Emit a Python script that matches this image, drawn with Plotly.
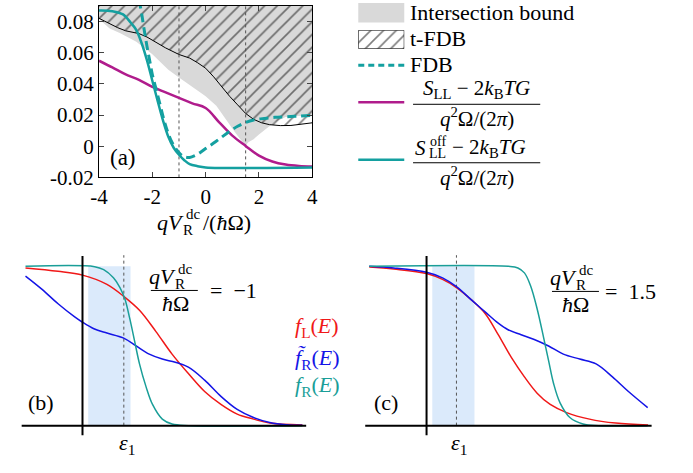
import plotly.graph_objects as go

W, H = 693, 473
FONT = "Liberation Serif"

# ---------------- Panel (a) data ----------------
TEAL_SOLID_X = [-4, -3.5, -3.1, -2.8, -2.6, -2.4, -2.2, -2.0, -1.8, -1.6, -1.4, -1.2, -1.0, -0.8, -0.6, -0.3, 0, 4]
TEAL_SOLID_Y = [0.087, 0.0866, 0.0845, 0.079, 0.0745, 0.066, 0.055, 0.042, 0.029, 0.0165, 0.006, -0.001,
                -0.0055, -0.009, -0.0115, -0.0128, -0.0136, -0.0137]

FDB_X = [-2.5, -2.4, -2.3, -2.2, -2.1, -2.0, -1.85, -1.7, -1.55, -1.4, -1.25, -1.1, -0.95, -0.8, -0.6, -0.4,
         -0.2, 0, 0.3, 0.6, 0.9, 1.2, 1.5, 1.8, 2.2, 2.6, 3.0, 3.5, 4.0]
FDB_Y = [0.094, 0.085, 0.074, 0.064, 0.055, 0.046, 0.036, 0.026, 0.016, 0.008, 0.002, -0.002, -0.005, -0.0068,
         -0.0072, -0.006, -0.004, -0.0015, 0.002, 0.0058, 0.0095, 0.0128, 0.0152, 0.0168, 0.0178, 0.0185, 0.0188,
         0.0193, 0.0198]

SLL_X = [-4, -3.5, -3.0, -2.5, -2.0, -1.5, -1.0, -0.5, 0, 0.5, 1.0, 1.5, 2.0, 2.5, 3.0, 3.5, 4.0]
SLL_Y = [0.0548, 0.0505, 0.046, 0.0425, 0.038, 0.0345, 0.031, 0.0275, 0.0245, 0.0155, 0.0068, 0.0002, -0.006,
         -0.0098, -0.0118, -0.0127, -0.013]

TFDB_X = [-4, -3.6, -3.3, -3.0, -2.7, -2.5, -2.2, -2.0, -1.5, -1.0, -0.6, -0.3, 0, 0.3, 0.6, 0.9, 1.2, 1.5, 1.8,
          2.1, 2.4, 2.8, 3.2, 3.6, 4.0]
TFDB_Y = [0.082, 0.0785, 0.076, 0.074, 0.0728, 0.0722, 0.070, 0.068, 0.063, 0.0588, 0.0565, 0.0535, 0.050, 0.0445,
          0.038, 0.032, 0.0265, 0.021, 0.0172, 0.015, 0.0138, 0.0132, 0.0133, 0.014, 0.015]

INTER_X = [-4, -3.6, -3.2, -2.6, -2.0, -1.4, -1.0, -0.5, 0, 0.4, 0.8, 1.1, 1.3, 1.45, 1.5, 1.6, 1.8, 2.0, 2.2,
           2.4, 2.6, 2.8, 3.0, 3.5, 4.0]
INTER_Y = [0.0815, 0.0755, 0.0725, 0.067, 0.059, 0.049, 0.044, 0.038, 0.032, 0.026, 0.016, 0.009, 0.0045, 0.0012,
           0.0005, 0.0025, 0.0045, 0.0075, 0.0105, 0.013, 0.0155, 0.0172, 0.0188, 0.0193, 0.0198]

A_YTOP = 0.09
A_VLINES = [-1.0, 1.5]
A_XTICKS = [-4, -2, 0, 2, 4]
A_XTICKTEXT = ["-4", "-2", "0", "2", "4"]
A_YTICKS = [-0.02, 0, 0.02, 0.04, 0.06, 0.08]
A_YTICKTEXT = ["-0.02", "0", "0.02", "0.04", "0.06", "0.08"]

# ---------------- Panel (b) data ----------------
B_FL_X = [-1.4, -0.6, 0, 0.6, 1.01, 1.4, 1.8, 2.2, 2.6, 3.0, 3.4, 3.8, 4.2, 4.6, 5.4]
B_FL_Y = [0.99, 0.969, 0.945, 0.887, 0.812, 0.724, 0.592, 0.449, 0.327, 0.214, 0.133, 0.072, 0.041, 0.016, 0.004]

B_FR_X = [-1.4, 0.3, 0.52, 0.76, 0.92, 1.04, 1.16, 1.28, 1.40, 1.56, 1.72, 1.96, 2.2, 2.6, 5.4]
B_FR_Y = [1.0, 0.998, 0.979, 0.928, 0.867, 0.796, 0.673, 0.531, 0.388, 0.245, 0.133, 0.041, 0.01, 0.0, 0.0]

B_FT_X = [-1.4, -1.0, -0.6, -0.2, 0, 0.28, 0.6, 1.0, 1.32, 1.64, 1.96, 2.28, 2.6, 3.0, 3.4, 3.8, 4.2, 4.6, 5.0, 5.4]
B_FT_Y = [0.939, 0.857, 0.765, 0.684, 0.649, 0.608, 0.581, 0.551, 0.5, 0.449, 0.418, 0.398, 0.367, 0.286, 0.184,
          0.102, 0.051, 0.02, 0.006, 0.002]

B_BAND = [0.14, 1.18]
B_EPS1 = 1.015

# ---------------- Panel (c) data ----------------
C_FL_X = [-1.4, -0.8, 0, 0.39, 0.73, 1.11, 1.43, 1.75, 2.07, 2.39, 2.70, 3.02, 3.42, 3.98, 4.62, 5.41]
C_FL_Y = [0.996, 0.983, 0.955, 0.918, 0.867, 0.786, 0.704, 0.571, 0.428, 0.306, 0.204, 0.133, 0.082, 0.041,
          0.016, 0.004]

C_FR_X = [-1.4, 2.0, 2.23, 2.39, 2.54, 2.70, 2.86, 2.98, 3.10, 3.26, 3.50, 3.82, 4.2, 5.4]
C_FR_Y = [1.0, 1.0, 0.99, 0.959, 0.878, 0.734, 0.551, 0.408, 0.266, 0.143, 0.051, 0.01, 0.0, 0.0]

C_FT_X = [-1.4, -0.8, 0, 0.39, 0.73, 1.11, 1.43, 1.75, 1.99, 2.31, 2.63, 2.98, 3.34, 3.74, 4.14, 4.54, 4.93, 5.40]
C_FT_Y = [1.0, 0.99, 0.963, 0.928, 0.873, 0.786, 0.714, 0.643, 0.602, 0.571, 0.541, 0.5, 0.449, 0.418, 0.388,
          0.306, 0.214, 0.113]

C_BAND = [0.14, 1.17]
C_EPS1 = 0.73

BC_XRANGE = [-1.5, 5.5]
BC_YRANGE = [-0.08, 1.08]
BC_VAXIS = [-0.06, 1.065]
BC_EPS_TOP = 1.07

# ---------------- colours ----------------
TEAL = "#14a0a0"
MAGENTA = "#b01c8c"
GRAY = "#d9d9d9"
RED = "#f01818"
BLUE = "#1414e6"
TEAL2 = "#1a9e98"
BANDC = "#dbeafb"


def X(px):
    return px / W


def Y(py):
    return 1 - py / H


fig = go.Figure()

# ---- panel (a) ----
fig.add_trace(go.Scatter(x=INTER_X + [INTER_X[-1], INTER_X[0]], y=INTER_Y + [A_YTOP, A_YTOP],
                         fill="toself", fillcolor=GRAY, line=dict(width=0), mode="lines",
                         xaxis="x", yaxis="y", hoverinfo="skip"))
fig.add_trace(go.Scatter(x=TFDB_X + [TFDB_X[-1], TFDB_X[0]], y=TFDB_Y + [A_YTOP, A_YTOP],
                         fill="toself", fillcolor="rgba(0,0,0,0)", line=dict(width=0), mode="lines",
                         fillpattern=dict(shape="/", fgcolor="black", bgcolor="rgba(0,0,0,0)", size=9,
                                          solidity=0.18),
                         xaxis="x", yaxis="y", hoverinfo="skip"))
fig.add_trace(go.Scatter(x=TFDB_X, y=TFDB_Y, mode="lines", line=dict(color="black", width=1),
                         xaxis="x", yaxis="y"))
for v in A_VLINES:
    fig.add_trace(go.Scatter(x=[v, v], y=[-0.02, A_YTOP], mode="lines",
                             line=dict(color="#555", width=1, dash="dot"), xaxis="x", yaxis="y"))
fig.add_trace(go.Scatter(x=SLL_X, y=SLL_Y, mode="lines", line=dict(color=MAGENTA, width=2.5, shape="spline"),
                         xaxis="x", yaxis="y"))
fig.add_trace(go.Scatter(x=TEAL_SOLID_X, y=TEAL_SOLID_Y, mode="lines",
                         line=dict(color=TEAL, width=2.5, shape="spline"), xaxis="x", yaxis="y"))
fig.add_trace(go.Scatter(x=FDB_X, y=FDB_Y, mode="lines",
                         line=dict(color=TEAL, width=3, dash="9px,5px", shape="spline"), xaxis="x", yaxis="y"))


# ---- panels (b) and (c) ----
def fermi_panel(xa, ya, band, eps, fl, fr, ft):
    fig.add_trace(go.Scatter(x=[band[0], band[1], band[1], band[0], band[0]], y=[0, 0, 1, 1, 0],
                             fill="toself", fillcolor=BANDC, line=dict(width=0), mode="lines",
                             xaxis=xa, yaxis=ya, hoverinfo="skip"))
    fig.add_trace(go.Scatter(x=[eps, eps], y=[0, BC_EPS_TOP], mode="lines",
                             line=dict(color="#555", width=1, dash="dot"), xaxis=xa, yaxis=ya))
    fig.add_trace(go.Scatter(x=fl[0], y=fl[1], mode="lines", line=dict(color=RED, width=1.5, shape="spline"),
                             xaxis=xa, yaxis=ya))
    fig.add_trace(go.Scatter(x=ft[0], y=ft[1], mode="lines", line=dict(color=BLUE, width=1.5, shape="spline"),
                             xaxis=xa, yaxis=ya))
    fig.add_trace(go.Scatter(x=fr[0], y=fr[1], mode="lines", line=dict(color=TEAL2, width=1.5, shape="spline"),
                             xaxis=xa, yaxis=ya))
    fig.add_trace(go.Scatter(x=BC_XRANGE, y=[0, 0], mode="lines", line=dict(color="black", width=2),
                             xaxis=xa, yaxis=ya))
    fig.add_trace(go.Scatter(x=[0, 0], y=BC_VAXIS, mode="lines", line=dict(color="black", width=2),
                             xaxis=xa, yaxis=ya))


fermi_panel("x2", "y2", B_BAND, B_EPS1, (B_FL_X, B_FL_Y), (B_FR_X, B_FR_Y), (B_FT_X, B_FT_Y))
fermi_panel("x3", "y3", C_BAND, C_EPS1, (C_FL_X, C_FL_Y), (C_FR_X, C_FR_Y), (C_FT_X, C_FT_Y))

# ---- legend hatched key ----
fig.add_trace(go.Scatter(x=[0, 1, 1, 0, 0], y=[0, 0, 1, 1, 0], mode="lines", fill="toself",
                         fillcolor="rgba(0,0,0,0)", line=dict(color="black", width=1),
                         fillpattern=dict(shape="/", fgcolor="black", bgcolor="white", size=9, solidity=0.18),
                         xaxis="x4", yaxis="y4"))

ann = []


def T(px, py, text, size=20, xanchor="center", color="black"):
    ann.append(dict(x=X(px), y=Y(py), xref="paper", yref="paper", text=text, showarrow=False,
                    xanchor=xanchor, yanchor="middle", font=dict(family=FONT, size=size, color=color)))


shapes = []


def L(x0, y0, x1, y1, color="black", width=1, dash=None):
    d = dict(type="line", xref="paper", yref="paper", x0=X(x0), y0=Y(y0), x1=X(x1), y1=Y(y1),
             line=dict(color=color, width=width))
    if dash:
        d["line"]["dash"] = dash
    shapes.append(d)


# panel (a) texts
T(117, 162, "(a)", 23)
T(181, 228, "<i>qV</i>", 22, "right")
T(179, 220, "dc", 15, "left")
T(176, 236, "R", 15, "left")
T(196, 228, "/(<i>ħ</i>Ω)", 22, "left")

# panel (b) texts
T(173, 284, "<i>qV</i>", 22, "right")
T(171, 276, "dc", 15, "left")
T(168, 291, "R", 15, "left")
L(145, 298, 193, 298)
T(170, 311, "<i>ħ</i>Ω", 22)
T(203, 298, "=\u2002−1", 22, "left")
T(290, 336, "<i>f</i><sub>L</sub>(<i>E</i>)", 22, "left", RED)
T(290, 368, "<i>f̃</i><sub>R</sub>(<i>E</i>)", 22, "left", BLUE)
T(290, 396, "<i>f</i><sub>R</sub>(<i>E</i>)", 22, "left", TEAL2)
T(33, 413, "(b)", 22)
T(121, 456, "<i>ε</i><sub>1</sub>", 22)

# panel (c) texts
T(583, 285, "<i>qV</i>", 22, "right")
T(581, 277, "dc", 15, "left")
T(578, 292, "R", 15, "left")
L(555, 299, 603, 299)
T(579, 312, "<i>ħ</i>Ω", 22)
T(607, 299, "=\u20021.5", 22, "left")
T(385, 413, "(c)", 22)
T(460, 456, "<i>ε</i><sub>1</sub>", 22)

# legend
shapes.append(dict(type="rect", xref="paper", yref="paper", x0=X(357), x1=X(404), y0=Y(23), y1=Y(3),
                   fillcolor=GRAY, line=dict(width=0)))
L(357, 67, 404, 67, TEAL, 3, "6px,4px")
L(357, 105, 404, 105, MAGENTA, 2.5)
L(357, 164, 404, 164, TEAL, 2.5)
T(408, 13, "Intersection bound", 22, "left")
T(408, 40, "t-FDB", 22, "left")
T(408, 66, "FDB", 22, "left")
T(478, 91, "<i>S</i><sub>LL</sub> − 2<i>k</i><sub>B</sub><i>TG</i>", 21)
L(413, 107, 543, 107)
T(478, 121, "<i>q</i><sup>2</sup>Ω/(2<i>π</i>)", 21)
T(428, 152, "<i>S</i>", 21, "right")
T(428, 145, "off", 14, "left")
T(427, 158, "LL", 14, "left")
T(451, 152, "− 2<i>k</i><sub>B</sub><i>TG</i>", 21, "left")
L(413, 167, 543, 167)
T(478, 181, "<i>q</i><sup>2</sup>Ω/(2<i>π</i>)", 21)

axis_common = dict(showgrid=False, zeroline=False)
fig.update_layout(
    width=W, height=H, margin=dict(l=0, r=0, t=0, b=0), showlegend=False,
    plot_bgcolor="white", paper_bgcolor="white",
    xaxis=dict(domain=[X(92), X(310)], anchor="y", range=[-4, 4], tickvals=A_XTICKS, ticktext=A_XTICKTEXT,
               ticks="inside", ticklen=5, mirror="ticks", showline=True, linecolor="black", linewidth=1,
               tickfont=dict(family=FONT, size=21, color="black"), **axis_common),
    yaxis=dict(domain=[Y(182), Y(6)], anchor="x", range=[-0.02, A_YTOP], tickvals=A_YTICKS,
               ticktext=A_YTICKTEXT, ticks="inside", ticklen=5, mirror="ticks", showline=True,
               linecolor="black", linewidth=1, tickfont=dict(family=FONT, size=21, color="black"),
               **axis_common),
    xaxis2=dict(domain=[X(12.7), X(304)], anchor="y2", range=BC_XRANGE, visible=False),
    yaxis2=dict(domain=[Y(449.8), Y(260.2)], anchor="x2", range=BC_YRANGE, visible=False),
    xaxis3=dict(domain=[X(364), X(657)], anchor="y3", range=BC_XRANGE, visible=False),
    yaxis3=dict(domain=[Y(449.8), Y(260.2)], anchor="x3", range=BC_YRANGE, visible=False),
    xaxis4=dict(domain=[X(357), X(404)], anchor="y4", range=[0, 1], visible=False),
    yaxis4=dict(domain=[Y(50), Y(31)], anchor="x4", range=[0, 1], visible=False),
    annotations=ann, shapes=shapes,
)

fig.write_html("out.html")
